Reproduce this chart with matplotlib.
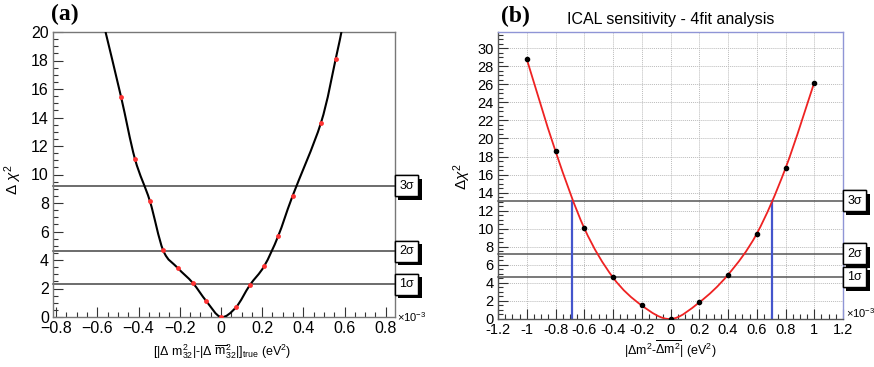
import numpy as np
import matplotlib
matplotlib.use('Agg')
import matplotlib.pyplot as plt
from matplotlib.ticker import MultipleLocator
from matplotlib.path import Path
from matplotlib.patches import PathPatch
from matplotlib import patheffects
from matplotlib.transforms import blended_transform_factory

# panel (a): data points (red) and drawn curve (black)
a_x = [-0.485, -0.417, -0.345, -0.28, -0.21, -0.137, -0.07, 0.0,
       0.073, 0.14, 0.21, 0.278, 0.348, 0.485, 0.557]
a_y = [15.47, 11.08, 8.15, 4.67, 3.45, 2.4, 1.1, 0.0,
       0.68, 2.23, 3.57, 5.68, 8.5, 13.6, 18.1]
a_curve_x = [-0.56] + a_x + [0.585]
a_curve_y = [20.0] + a_y + [20.0]
a_levels = [2.30, 4.61, 9.21]
a_level_names = ['1σ', '2σ', '3σ']

# panel (b): ICAL 4fit
b_x = [-1.0, -0.8, -0.6, -0.4, -0.2, 0.0, 0.2, 0.4, 0.6, 0.8, 1.0]
b_y = [28.8, 18.6, 10.07, 4.6, 1.5, 0.0, 1.84, 4.9, 9.45, 16.7, 26.2]
b_levels = [4.65, 7.23, 13.1]
b_level_names = ['1σ', '2σ', '3σ']
b_cross_x = [-0.687, 0.704]

plt.rcParams['font.family'] = ['Liberation Sans', 'DejaVu Sans']
plt.rcParams['mathtext.fontset'] = 'custom'
plt.rcParams['mathtext.rm'] = 'Liberation Sans'
plt.rcParams['mathtext.it'] = 'Liberation Sans:italic'

fig = plt.figure(figsize=(8.74, 3.67), dpi=100)
W, H = 874., 367.

def add_ax(l, r, t, b):
    return fig.add_axes([l / W, (H - b) / H, (r - l) / W, (b - t) / H])

def style(ax, frame, size):
    ax.tick_params(which='both', direction='in', top=False, right=False,
                   labelsize=size, colors='#333333', labelcolor='black', pad=3)
    ax.tick_params(which='major', length=7, width=0.8)
    ax.tick_params(which='minor', length=3.5, width=0.8)
    for s in ax.spines.values():
        s.set_color(frame)
        s.set_linewidth(1.0)

def smooth_curve(ax, xs, ys, **kw):
    # ROOT-like smooth drawing through the points (Catmull-Rom as cubic Bezier)
    p = np.column_stack([xs, ys])
    verts = [p[0]]
    codes = [Path.MOVETO]
    for i in range(len(p) - 1):
        p0 = p[max(i - 1, 0)]
        p1, p2 = p[i], p[i + 1]
        p3 = p[min(i + 2, len(p) - 1)]
        verts += [p1 + (p2 - p0) / 6., p2 - (p3 - p1) / 6., p2]
        codes += [Path.CURVE4] * 3
    ax.add_patch(PathPatch(Path(verts, codes), fill=False, **kw))

def sigma_boxes(ax, levels, labels, color):
    tr = blended_transform_factory(ax.transAxes, ax.transData)
    for lv, lab in zip(levels, labels):
        ax.plot([0, 1.0], [lv, lv], color=color, lw=1.1, transform=tr, clip_on=False)
        ann = ax.annotate(lab, (1.0, lv), xycoords=tr, xytext=(3, 0), textcoords='offset points',
                          ha='left', va='center', fontsize=9, color='black', annotation_clip=False,
                          bbox=dict(boxstyle='square,pad=0.35', fc='white', ec='black', lw=1))
        ann.get_bbox_patch().set_path_effects([
            patheffects.withSimplePatchShadow(offset=(2.5, -2.5), shadow_rgbFace='black', alpha=1),
            patheffects.Normal()])

# ---- panel (a)
ax1 = add_ax(53, 395, 32, 317)
smooth_curve(ax1, a_curve_x, a_curve_y, ec='black', lw=1.5, zorder=3)
ax1.plot(a_x, a_y, 'o', color='#ff3333', ms=3.5, mec='none', zorder=4)
sigma_boxes(ax1, a_levels, a_level_names, '#444444')
ax1.set_xlim(-0.815, 0.845)
ax1.set_ylim(0, 20)
ax1.xaxis.set_minor_locator(MultipleLocator(0.05))
ax1.yaxis.set_major_locator(MultipleLocator(2))
ax1.yaxis.set_minor_locator(MultipleLocator(0.5))
ax1.set_xticks([-0.8, -0.6, -0.4, -0.2, 0, 0.2, 0.4, 0.6, 0.8])
ax1.set_xticklabels(['\u22120.8', '\u22120.6', '\u22120.4', '\u22120.2', '0', '0.2', '0.4', '0.6', '0.8'])
style(ax1, '#777777', 11.5)
ax1.text(1.005, 0.0, r'$\times$10$^{-3}$', transform=ax1.transAxes, fontsize=8, va='center', ha='left')
fig.text(13 / W, 1 - 180 / H, r'$\Delta\ \chi^{2}$', rotation=90, ha='center', va='center', fontsize=11)
fig.text(222 / W, 1 - 352 / H,
         r'[|$\Delta$ m$^{2}_{32}$|-|$\Delta$ $\overline{\rm m}^{2}_{32}$|]$_{\rm true}$ (eV$^{2}$)',
         ha='center', va='center', fontsize=9)
fig.text(65 / W, 1 - 14 / H, '(a)', family='Liberation Serif', weight='bold', fontsize=17,
         ha='center', va='center')

# ---- panel (b)
ax2 = add_ax(498, 843, 32, 319)
ax2.grid(True, which='major', color='#bbbbbb', lw=0.7, ls=(0, (1, 1)))
smooth_curve(ax2, b_x, b_y, ec='#ee2222', lw=1.3, zorder=3)
ax2.plot(b_x, b_y, 'o', color='black', ms=3, zorder=4)
sigma_boxes(ax2, b_levels, b_level_names, '#555555')
for xc in b_cross_x:
    ax2.plot([xc, xc], [0, b_levels[2]], color='#4455cc', lw=1.6, zorder=2)
ax2.set_xlim(-1.2, 1.2)
ax2.set_ylim(0, 31.8)
ax2.xaxis.set_minor_locator(MultipleLocator(0.05))
ax2.yaxis.set_major_locator(MultipleLocator(2))
ax2.yaxis.set_minor_locator(MultipleLocator(0.5))
style(ax2, '#8f95d6', 10.5)
ax2.spines['left'].set_color('#555555')
ax2.spines['bottom'].set_color('#555555')
ax2.set_xticks([-1.2, -1, -0.8, -0.6, -0.4, -0.2, 0, 0.2, 0.4, 0.6, 0.8, 1, 1.2])
ax2.set_xticklabels(['-1.2', '-1', '-0.8', '-0.6', '-0.4', '-0.2', '0', '0.2', '0.4', '0.6', '0.8', '1', '1.2'])
ax2.text(1.008, 0.02, r'$\times$10$^{-3}$', transform=ax2.transAxes, fontsize=8, va='center', ha='left')
ax2.set_title('ICAL sensitivity - 4fit analysis', fontsize=11.5, pad=6)
fig.text(462 / W, 1 - 177 / H, r'$\Delta\chi^{2}$', rotation=90, ha='center', va='center', fontsize=11)
fig.text(670 / W, 1 - 349 / H, r'|$\Delta$m$^{2}$-$\overline{\Delta{\rm m}^{2}}$| (eV$^{2}$)',
         ha='center', va='center', fontsize=9)
fig.text(515 / W, 1 - 16 / H, '(b)', family='Liberation Serif', weight='bold', fontsize=17,
         ha='center', va='center')

fig.savefig('out.png', dpi=100)
